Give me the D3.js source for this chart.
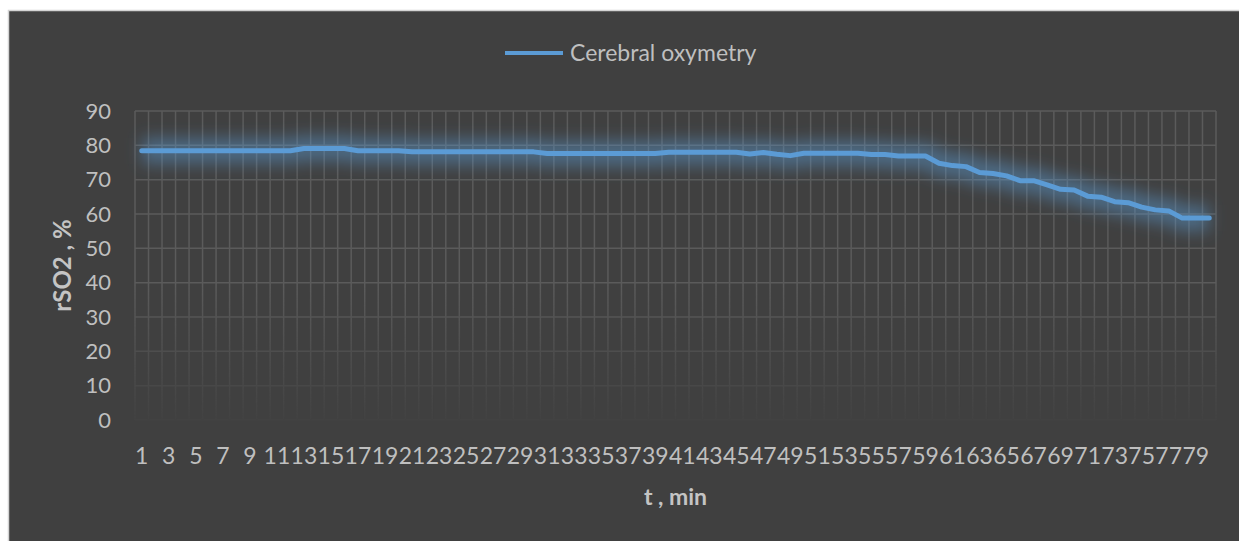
<!DOCTYPE html>
<html>
<head>
<meta charset="utf-8">
<script src="https://cdn.jsdelivr.net/npm/d3@7"></script>
<style>
  html, body { margin: 0; padding: 0; background: #ffffff; }
  svg { display: block; font-family: Lato, "Open Sans", "Noto Sans", sans-serif; }
</style>
</head>
<body>
<svg id="chart" width="1239" height="541"></svg>
<script>
// Time points, minutes
const minutes = [
  1, 2, 3, 4, 5, 6, 7, 8, 9, 10, 11, 12, 13, 14, 15, 16, 17, 18, 19, 20,
  21, 22, 23, 24, 25, 26, 27, 28, 29, 30, 31, 32, 33, 34, 35, 36, 37, 38, 39, 40,
  41, 42, 43, 44, 45, 46, 47, 48, 49, 50, 51, 52, 53, 54, 55, 56, 57, 58, 59, 60,
  61, 62, 63, 64, 65, 66, 67, 68, 69, 70, 71, 72, 73, 74, 75, 76, 77, 78, 79, 80
];

// Regional cerebral oxygen saturation rSO2, %
const rso2 = [
  78.4, 78.4, 78.4, 78.4, 78.4, 78.4, 78.4, 78.4, 78.4, 78.4, 78.4, 78.4,
  79.1, 79.1, 79.1, 79.1,
  78.4, 78.4, 78.4, 78.4,
  78.1, 78.1, 78.1, 78.1, 78.1, 78.1, 78.1, 78.1, 78.1, 78.1,
  77.6, 77.6, 77.6, 77.6, 77.6, 77.6, 77.6, 77.6, 77.6,
  78.0, 78.0, 78.0, 78.0, 78.0, 78.0,
  77.5, 77.9, 77.4, 77.0,
  77.7, 77.7, 77.7, 77.7, 77.7,
  77.3, 77.3,
  76.9, 76.9, 76.9,
  74.8, 74.1, 73.8, 72.1, 71.8, 71.1, 69.7, 69.7, 68.5, 67.2, 67.0,
  65.2, 64.9, 63.6, 63.3, 62.0, 61.2, 60.9, 58.8, 58.8, 58.8
];

const yTicks = [0, 10, 20, 30, 40, 50, 60, 70, 80, 90];
const xTickLabels = minutes.filter(m => m % 2 === 1);

const seriesName = "Cerebral oxymetry";
const xTitle = "t , min";
const yTitle = "rSO2 , %";

const svg = d3.select("#chart");
const W = 1239, H = 541;
const plot = { left: 135, right: 1216, top: 111, bottom: 420 };

const colors = {
  panel: "#404040",
  frame: "#d4d4d4",
  grid: "#5b5b5b",
  text: "#bfbfbf",
  title: "#c4c4c4",
  line: "#5b9bd5"
};

const x = d3.scaleBand()
  .domain(minutes)
  .range([plot.left, plot.right])
  .padding(0);

const y = d3.scaleLinear()
  .domain([0, 90])
  .range([plot.bottom, plot.top]);

const defs = svg.append("defs");

// soft glow under the series line
defs.append("filter")
  .attr("id", "glow")
  .attr("x", "-10%").attr("y", "-200%")
  .attr("width", "120%").attr("height", "500%")
  .append("feGaussianBlur")
  .attr("stdDeviation", 8);

// gridlines fade out towards the bottom of the plot
const fade = defs.append("linearGradient")
  .attr("id", "gridFade")
  .attr("gradientUnits", "userSpaceOnUse")
  .attr("x1", 0).attr("x2", 0)
  .attr("y1", y(40)).attr("y2", y(0));
fade.append("stop").attr("offset", 0).attr("stop-color", "#fff").attr("stop-opacity", 1);
fade.append("stop").attr("offset", 1).attr("stop-color", "#fff").attr("stop-opacity", 0.08);

defs.append("mask")
  .attr("id", "gridMask")
  .attr("maskUnits", "userSpaceOnUse")
  .attr("x", 0).attr("y", 0).attr("width", W).attr("height", H)
  .append("rect")
  .attr("x", 0).attr("y", 0).attr("width", W).attr("height", H)
  .attr("fill", "url(#gridFade)");

// chart panel
svg.append("rect")
  .attr("x", 8.5).attr("y", 10.5)
  .attr("width", W).attr("height", H)
  .attr("fill", colors.panel)
  .attr("stroke", colors.frame)
  .attr("stroke-width", 1.5);

// gridlines
const grid = svg.append("g").attr("mask", "url(#gridMask)")
  .attr("stroke", colors.grid).attr("stroke-width", 1.5).attr("fill", "none");

grid.selectAll("line.h")
  .data(yTicks)
  .join("line")
  .attr("class", "h")
  .attr("x1", plot.left).attr("x2", plot.right)
  .attr("y1", d => y(d)).attr("y2", d => y(d));

const bounds = minutes.map(m => x(m)).concat([x(minutes[minutes.length - 1]) + x.bandwidth()]);
grid.selectAll("line.v")
  .data(bounds)
  .join("line")
  .attr("class", "v")
  .attr("x1", d => d).attr("x2", d => d)
  .attr("y1", plot.top).attr("y2", plot.bottom);

// y axis labels
const yAxis = svg.append("g")
  .attr("transform", `translate(${plot.left - 24},0)`)
  .call(d3.axisLeft(y).tickValues(yTicks).tickSize(0).tickPadding(0));
yAxis.select(".domain").remove();
yAxis.selectAll("text")
  .attr("fill", colors.text)
  .style("font-size", "22px")
  .style("font-family", "Lato, 'Open Sans', sans-serif");

// x axis labels
const xAxis = svg.append("g")
  .attr("transform", `translate(0,${plot.bottom + 36})`)
  .call(d3.axisBottom(x).tickValues(xTickLabels).tickSize(0).tickPadding(0));
xAxis.select(".domain").remove();
xAxis.selectAll("text")
  .attr("fill", colors.text)
  .attr("dy", "0.35em")
  .style("font-size", "23px")
  .style("font-family", "Lato, 'Open Sans', sans-serif");

// axis titles
svg.append("text")
  .attr("x", (plot.left + plot.right) / 2)
  .attr("y", 505)
  .attr("text-anchor", "middle")
  .attr("fill", colors.title)
  .style("font-size", "23px")
  .style("font-weight", "bold")
  .text(xTitle);

svg.append("text")
  .attr("transform", `translate(71,${(plot.top + plot.bottom) / 2}) rotate(-90)`)
  .attr("text-anchor", "middle")
  .attr("fill", colors.title)
  .style("font-size", "24px")
  .style("font-weight", "bold")
  .text(yTitle);

// series line
const line = d3.line()
  .x((d, i) => x(minutes[i]) + x.bandwidth() / 2)
  .y(d => y(d));

svg.append("path")
  .datum(rso2)
  .attr("d", line)
  .attr("fill", "none")
  .attr("stroke", colors.line)
  .attr("stroke-width", 26)
  .attr("stroke-opacity", 0.45)
  .attr("stroke-linejoin", "round")
  .attr("filter", "url(#glow)");

svg.append("path")
  .datum(rso2)
  .attr("d", line)
  .attr("fill", "none")
  .attr("stroke", colors.line)
  .attr("stroke-width", 5)
  .attr("stroke-linejoin", "round")
  .attr("stroke-linecap", "round");

// legend
const legend = svg.append("g").attr("transform", "translate(505,53)");
legend.append("line")
  .attr("x1", 0).attr("x2", 58)
  .attr("y1", 0).attr("y2", 0)
  .attr("stroke", colors.line)
  .attr("stroke-width", 4);
legend.append("text")
  .attr("x", 65).attr("y", 0)
  .attr("dy", "0.35em")
  .attr("fill", colors.text)
  .style("font-size", "23px")
  .text(seriesName);
</script>
</body>
</html>
